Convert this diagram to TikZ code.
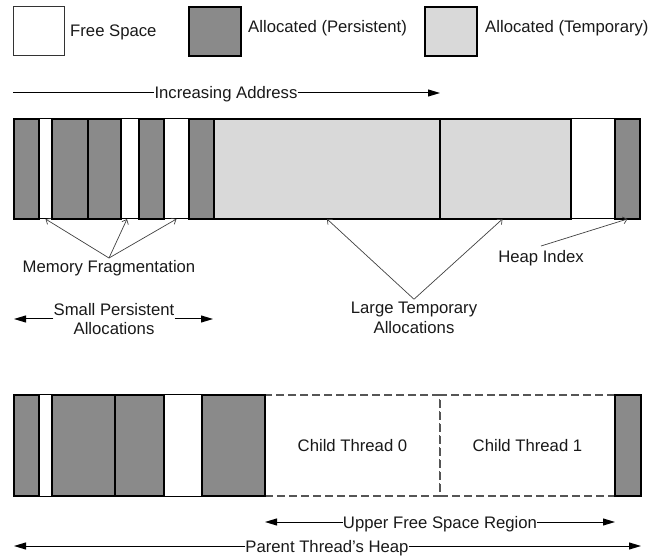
\documentclass[tikz,border=0pt]{standalone}
\usepackage{fontspec}
\setmainfont{Liberation Sans}
\usetikzlibrary{arrows.meta,calc}
\definecolor{pers}{HTML}{8A8A8A}
\definecolor{temp}{HTML}{D9D9D9}
\definecolor{ann}{HTML}{404040}
\definecolor{dash}{HTML}{555555}
\newcommand\memblock[7][]{\node[#3, minimum width={(#5)-(#4)}, minimum height={(#7)-(#6)}] (#2) at ({((#4)+(#5))/2},{((#6)+(#7))/2}) {#1};}
\tikzset{
  txt/.style={font=\fontsize{16.7}{19.5}\selectfont, text=black!90},
  blk/.style={draw=black, line width=1.8pt, inner sep=0pt, outer sep=0pt},
  persblk/.style={blk, fill=pers},
  tempblk/.style={blk, fill=temp},
  legfree/.style={draw=black!80, line width=1pt, fill=white, inner sep=0pt, outer sep=0pt},
  gapblk/.style={inner sep=0pt, outer sep=0pt},
  outline/.style={draw=black, line width=1pt, inner sep=0pt, outer sep=0pt},
  childblk/.style={draw=dash, line width=1.2pt, dash pattern=on 8pt off 4pt, fill=white, inner sep=0pt, outer sep=0pt, txt},
  annarrow/.style={draw=ann, line width=0.7pt, -{Straight Barb[length=4pt,width=7pt]}},
  bigtip/.style={line width=1pt, -{Triangle[length=12pt,width=7pt]}},
  linelabel/.style={txt, inner sep=0pt},
  annlabel/.style={txt, inner sep=2pt, align=center},
}
\begin{document}
\begin{tikzpicture}[x=1pt,y=-1pt]
\useasboundingbox (0,0) rectangle (665,556);
% legend
\memblock{lfree}{legfree}{13}{64}{7}{56}
\memblock{lpers}{persblk}{189}{241}{7}{56}
\memblock{ltemp}{tempblk}{425}{477}{7}{56}
\node[txt, anchor=west, inner sep=0pt] (tfree) at (70,32) {Free Space};
\node[txt, anchor=west, inner sep=0pt] (tpers) at (248,28) {Allocated (Persistent)};
\node[txt, anchor=west, inner sep=0pt] (ttemp) at (485,28) {Allocated (Temporary)};
% increasing address
\coordinate (ia0) at (13,93);
\coordinate (ia1) at (440,93);
\node[linelabel, anchor=base] (ia) at (226,99) {Increasing Address};
\draw[line width=1pt] (ia0) -- (ia0 -| ia.west);
\draw[bigtip] (ia0 -| ia.east) -- (ia1);
% top bar
\memblock{bar1}{outline}{14}{640}{119}{219}
\memblock{a1}{persblk}{14}{39}{119}{219}
\memblock{g1}{gapblk}{39}{52}{119}{219}
\memblock{a2}{persblk}{52}{88}{119}{219}
\memblock{a3}{persblk}{88}{121}{119}{219}
\memblock{g2}{gapblk}{121}{139}{119}{219}
\memblock{a4}{persblk}{139}{164}{119}{219}
\memblock{g3}{gapblk}{164}{189}{119}{219}
\memblock{a5}{persblk}{189}{214}{119}{219}
\memblock{t1}{tempblk}{214}{440}{119}{219}
\memblock{t2}{tempblk}{440}{571}{119}{219}
\memblock{g4}{gapblk}{571}{615}{119}{219}
\memblock{a6}{persblk}{615}{640}{119}{219}
% annotations
\node[annlabel] (mf) at (109,268) {Memory Fragmentation};
\draw[annarrow] (mf.north) -- (g1.south);
\draw[annarrow] (mf.north) -- ($(g2.south)+(-3,0)$);
\draw[annarrow] (mf.north) -- (g3.south);
\node[annlabel, inner sep=3pt] (lt) at (414,318) {Large Temporary\\Allocations};
\draw[annarrow] (lt.north) -- (t1.south);
\draw[annarrow] (lt.north) -- ($(t2.south)+(-3,0)$);
\node[annlabel, inner sep=4pt] (hi) at (541,258) {Heap Index};
\draw[annarrow] (hi.north) -- (a6.south);
\node[linelabel, align=center] (sp) at (114,319) {Small Persistent\\Allocations};
\coordinate (sp0) at (14,319);
\coordinate (sp1) at (213,319);
\draw[bigtip] (sp0 -| sp.west) -- (sp0);
\draw[bigtip] (sp1 -| sp.east) -- (sp1);
% bottom bar
\memblock{bar2}{outline}{14}{265}{395}{496}
\memblock[Child Thread 0]{c0}{childblk}{265}{440}{395}{496}
\memblock[Child Thread 1]{c1}{childblk}{440}{615}{395}{496}
\memblock{b1}{persblk}{14}{39}{395}{496}
\memblock{h1}{gapblk}{39}{52}{395}{496}
\memblock{b2}{persblk}{52}{115}{395}{496}
\memblock{b3}{persblk}{115}{164}{395}{496}
\memblock{h2}{gapblk}{164}{202}{395}{496}
\memblock{b4}{persblk}{202}{265}{395}{496}
\memblock{b5}{persblk}{615}{641}{395}{496}
% region arrows
\coordinate (uf0) at (265,522);
\coordinate (uf1) at (615,522);
\node[linelabel, anchor=base] (uf) at (440,528) {Upper Free Space Region};
\draw[bigtip] (uf0 -| uf.west) -- (uf0);
\draw[bigtip] (uf1 -| uf.east) -- (uf1);
\coordinate (ph0) at (14,546);
\coordinate (ph1) at (641,546);
\node[linelabel, anchor=base] (ph) at (327,552) {Parent Thread’s Heap};
\draw[bigtip] (ph0 -| ph.west) -- (ph0);
\draw[bigtip] (ph1 -| ph.east) -- (ph1);
\end{tikzpicture}
\end{document}
